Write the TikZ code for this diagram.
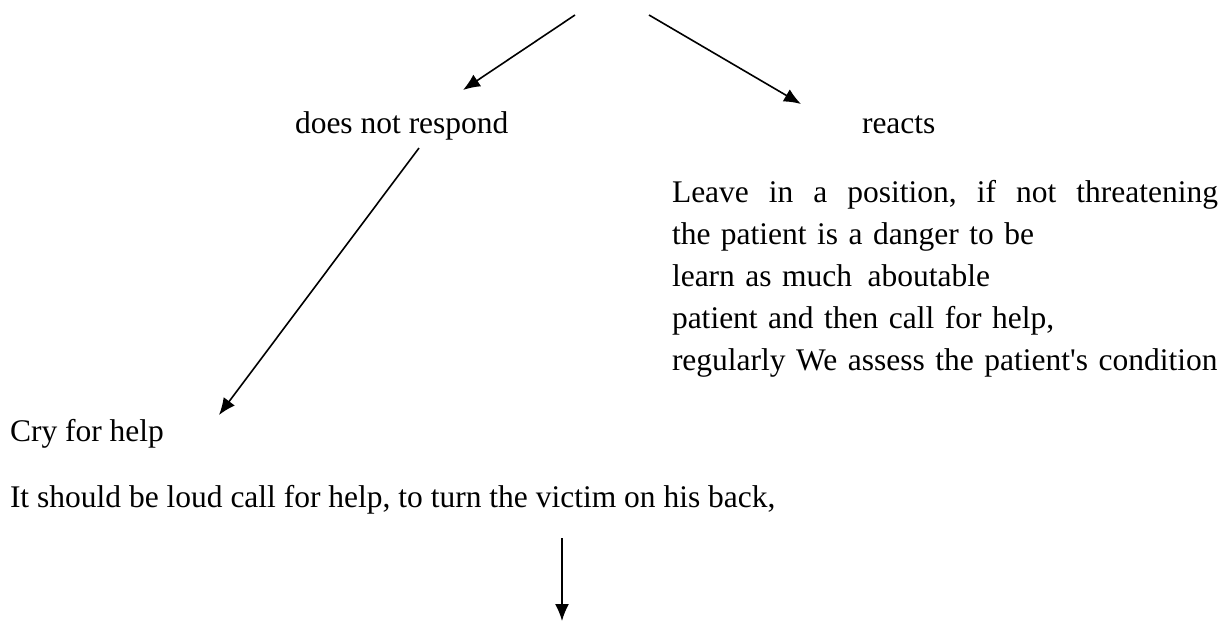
\documentclass[tikz,border=0pt]{standalone}
\usepackage{fontspec}
\setmainfont{Liberation Serif}[Ligatures=TeXOff]
\usetikzlibrary{arrows.meta}
\begin{document}
\begin{tikzpicture}[x=1pt,y=-1pt,
  lbl/.style={inner sep=0pt,outer sep=0pt,anchor=base west,font=\fontsize{31.5}{42}\selectfont},
  conn/.style={line width=1.6pt,-{Latex[length=17pt,width=14pt]}}]
\useasboundingbox (0,0) rectangle (1231,622);
% text nodes
\node[lbl] (dnr) at (295,133) {does not respond};
\node[lbl] (rea) at (862,133) {reacts};
\node[lbl,text width=580pt,align=left] (blk) at (672,202)
  {\hbox to 546pt{Leave\hfill in\hfill a\hfill position,\hfill if\hfill not\hfill threatening}\\
   the patient is a danger to be\\
   learn as much\hspace{5pt} aboutable\\
   patient and then call for help,\\
   regularly We assess the patient's condition};
\node[lbl] (cry) at (10,441) {Cry for help};
\node[lbl] (loud) at (10,507) {It should be loud call for help, to turn the victim on his back,};
% connector ends
\coordinate (topL) at (575,15);
\coordinate (topR) at (649,15);
\coordinate (tipL) at (463,90);
\coordinate (tipR) at (801,104);
\coordinate (dnrOut) at (419,148);
\coordinate (tipCry) at (219,415);
\coordinate (botS) at (562,538);
\coordinate (botE) at (562,621);
% connectors
\draw[conn] (topL) -- (tipL);
\draw[conn] (topR) -- (tipR);
\draw[conn] (dnrOut) -- (tipCry);
\draw[conn] (botS) -- (botE);
\end{tikzpicture}
\end{document}
